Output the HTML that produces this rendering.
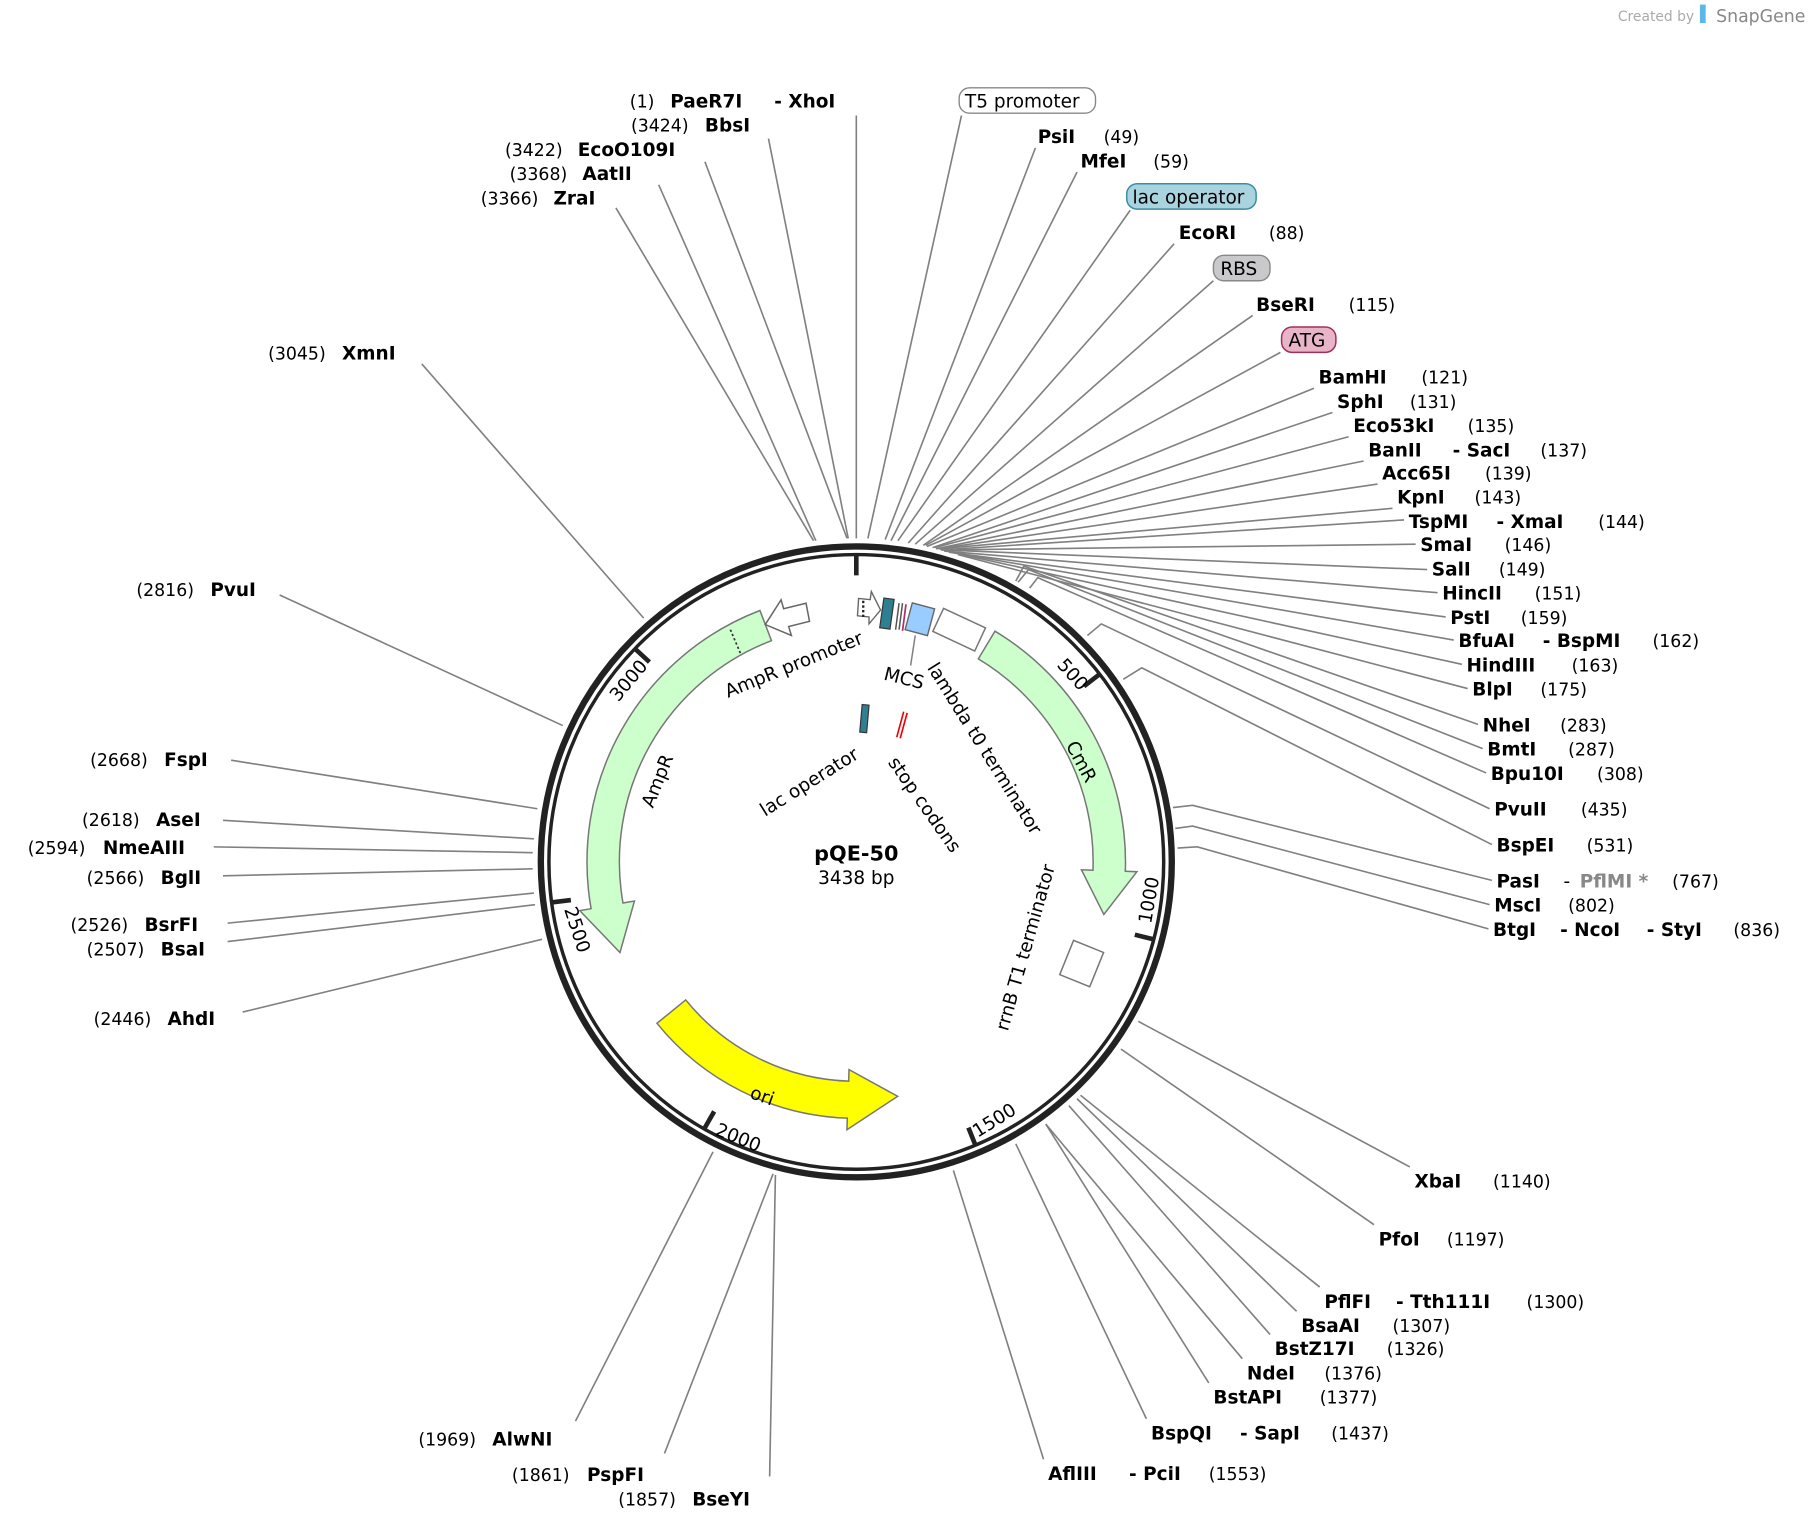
<!DOCTYPE html>
<html><head><meta charset="utf-8"><style>
html,body{margin:0;padding:0;background:#fff;}
svg{display:block;}
text{font-family:"DejaVu Sans","Liberation Sans",sans-serif;font-size:16px;fill:#000;}
.b{font-weight:bold;}
.n{font-size:15px;}
.l{stroke:#808080;stroke-width:1.4;fill:none;}
</style></head><body>
<svg width="1812" height="1532" viewBox="0 0 1568 1326" preserveAspectRatio="none" xmlns="http://www.w3.org/2000/svg">
<rect width="1568" height="1326" fill="#fff"/>
<text x="1400" y="18" style="font-size:12px;fill:#aaa">Created by</text>
<rect x="1471" y="4" width="5" height="16" fill="#5bb8e8"/>
<text x="1485" y="19" style="font-size:15px;fill:#888">SnapGene</text>

<!-- connector lines -->
<g class="l">
<path d="M751 466 L832 100"/>
<path d="M766 467 L896 128"/>
<path d="M771 468 L932 149"/>
<path d="M777 468 L978 182"/>
<path d="M786 470 L1016 211"/>
<path d="M792 471 L1050 243"/>
<path d="M799 472 L1084 273"/>
<path d="M801 472 L1108 305"/>
<path d="M802 473 L1137 336"/>
<path d="M807 474 L1153 357"/>
<path d="M809 474 L1167 378"/>
<path d="M810 475 L1180 399"/>
<path d="M812 475 L1192 419"/>
<path d="M813 475 L1205 440"/>
<path d="M814 476 L1215 450"/>
<path d="M815 476 L1225 471"/>
<path d="M816 476 L1235 493"/>
<path d="M817 477 L1244 513"/>
<path d="M821 478 L1251 534"/>
<path d="M823 478 L1258 554"/>
<path d="M823 478 L1265 575"/>
<path d="M829 480 L1270 596"/>
<path d="M879 503 L886 490 L1279 627"/>
<path d="M881 504 L890 493 L1283 648"/>
<path d="M891 509 L898 500 L1286 669"/>
<path d="M941 550 L953 540 L1289 700"/>
<path d="M972 588 L988 578 L1291 731"/>
<path d="M1015 699 L1032 697 L1291 762"/>
<path d="M1017 717 L1032 715 L1289 783"/>
<path d="M1019 734 L1036 733 L1288 804"/>
<path d="M985 884 L1220 1010"/>
<path d="M970 908 L1189 1060"/>
<path d="M935 948 L1142 1114"/>
<path d="M932 951 L1122 1135"/>
<path d="M925 957 L1099 1155"/>
<path d="M905 973 L1075 1176"/>
<path d="M905 973 L1046 1197"/>
<path d="M879 990 L992 1228"/>
<path d="M825 1013 L903 1263"/>
<path d="M671 1017 L666 1278"/>
<path d="M669 1016 L575 1258"/>
<path d="M617 997 L498 1230"/>
<path d="M469 813 L210 876"/>
<path d="M463 783 L197 815"/>
<path d="M462 773 L197 799"/>
<path d="M461 752 L193 758"/>
<path d="M461 738 L185 733"/>
<path d="M462 726 L193 710"/>
<path d="M465 700 L200 658"/>
<path d="M487 628 L242 515"/>
<path d="M557 535 L365 315"/>
<path d="M704 468 L533 180"/>
<path d="M706 468 L570 160"/>
<path d="M733 466 L610 140"/>
<path d="M734 466 L665 120"/>
<path d="M741 466 L741 100"/>
</g>

<!-- backbone -->
<circle cx="741" cy="746" r="273" fill="none" stroke="#222" stroke-width="5.5"/>
<circle cx="741" cy="746" r="266" fill="none" stroke="#222" stroke-width="3"/>
<!-- ticks -->
<g stroke="#222" stroke-width="4">
<line x1="741" y1="480" x2="741" y2="498"/>
<line x1="951" y1="584" x2="938" y2="594"/>
<line x1="998" y1="813" x2="982" y2="809"/>
<line x1="844" y1="991" x2="838" y2="976"/>
<line x1="610" y1="976" x2="618" y2="962"/>
<line x1="478" y1="781" x2="494" y2="779"/>
<line x1="550" y1="562" x2="562" y2="573"/>
</g>

<!-- features -->
<path d="M657.6 528.4 A233 233 0 0 0 511.5 786.5 L501.7 788.2 L536.5 824.4 L549 779.9 L539.1 781.6 A205 205 0 0 1 667.6 554.5 Z" fill="#ccffcc" stroke="#777" stroke-width="1.3"/>
<line x1="632" y1="545" x2="641" y2="566" stroke="#333" stroke-width="1.5" stroke-dasharray="2,2"/>
<path d="M697.5 522.1 L678.1 526.9 L675.9 519.2 L662.2 540.6 L684.8 550 L682.5 542.3 L700.5 537.8 Z" fill="#fff" stroke="#666" stroke-width="1.3"/>
<path d="M861 546.3 A233 233 0 0 1 973.8 754.1 L983.8 754.5 L955.2 791.5 L935.8 752.8 L945.8 753.2 A205 205 0 0 0 846.6 570.3 Z" fill="#ccffcc" stroke="#777" stroke-width="1.3"/>
<path d="M568.5 885.7 A222 222 0 0 0 733.2 967.8 L732.9 977.8 L776.8 948.9 L734.7 925.8 L734.4 935.8 A190 190 0 0 1 593.4 865.5 Z" fill="#ffff00" stroke="#777" stroke-width="1.3"/>
<!-- T5 promoter small arrow -->
<path d="M743 518 L753 519 L754 512 L762 528 L752 540 L752 534 L742 533 Z" fill="#fff" stroke="#666" stroke-width="1.2"/>
<line x1="747" y1="520" x2="747" y2="534" stroke="#222" stroke-width="2" stroke-dasharray="2,2"/>
<rect x="763" y="518" width="9" height="26" fill="#2e7f92" stroke="#333" stroke-width="1" transform="rotate(8 767 531)"/>
<line x1="778" y1="522" x2="775" y2="545" stroke="#555" stroke-width="1.3"/>
<line x1="781" y1="522" x2="778" y2="545" stroke="#555" stroke-width="1.3"/>
<line x1="784" y1="523" x2="781" y2="546" stroke="#b0306a" stroke-width="1.5"/>
<rect x="786" y="524" width="20" height="24" fill="#99ccff" stroke="#666" stroke-width="1.2" transform="rotate(15 796 536)"/>
<rect x="810" y="534" width="40" height="22" fill="#fff" stroke="#777" stroke-width="1.3" transform="rotate(25 830 545)"/>
<rect x="922" y="818" width="28" height="32" fill="#fff" stroke="#777" stroke-width="1.3" transform="rotate(22 936 834)"/>
<line x1="792" y1="550" x2="788" y2="576" stroke="#808080" stroke-width="1.3"/>
<rect x="745" y="610" width="6" height="24" fill="#2e7f92" stroke="#333" stroke-width="1" transform="rotate(5 748 622)"/>
<line x1="776" y1="638" x2="782" y2="616" stroke="#e00" stroke-width="1.4"/>
<line x1="779" y1="639" x2="785" y2="617" stroke="#e00" stroke-width="1.4"/>

<!-- feature boxes -->
<rect x="830" y="76" width="118" height="22" rx="9" fill="#fff" stroke="#888" stroke-width="1.2"/>
<text x="835" y="93">T5 promoter</text>
<rect x="975" y="159" width="112" height="22" rx="9" fill="#a9d3de" stroke="#3a8fa3" stroke-width="1.3"/>
<text x="980" y="176">lac operator</text>
<rect x="1050" y="221" width="49" height="22" rx="9" fill="#c9c9cc" stroke="#888" stroke-width="1.2"/>
<text x="1056" y="238">RBS</text>
<rect x="1109" y="283" width="47" height="22" rx="9" fill="#e8b4c8" stroke="#a0305a" stroke-width="1.3"/>
<text x="1115" y="300">ATG</text>

<!-- inner labels -->
<text x="741" y="745" text-anchor="middle" class="b" style="font-size:18px">pQE-50</text>
<text x="741" y="765" text-anchor="middle">3438 bp</text>
<text transform="translate(630,604) rotate(-22)">AmpR promoter</text>
<text transform="translate(764,588) rotate(14)">MCS</text>
<text transform="translate(802,578) rotate(58)">lambda t0 terminator</text>
<text transform="translate(922,645) rotate(62)">CmR</text>
<text transform="translate(565,700) rotate(-68)">AmpR</text>
<text transform="translate(648,950) rotate(20)">ori</text>
<text transform="translate(618,982) rotate(22)">2000</text>
<text transform="translate(846,985) rotate(-32)">1500</text>
<text transform="translate(996,800) rotate(-80)">1000</text>
<text transform="translate(914,576) rotate(48)">500</text>
<text transform="translate(535,608) rotate(-50)">3000</text>
<text transform="translate(488,787) rotate(72)">2500</text>
<text transform="translate(662,707) rotate(-32)">lac operator</text>
<text transform="translate(768,660) rotate(55)">stop codons</text>
<text transform="translate(872,893) rotate(-74)">rrnB T1 terminator</text>

<!-- right labels -->
<g>
<text x="898" y="124" class="b">PsiI</text><text x="955" y="124" class="n">(49)</text>
<text x="935" y="145" class="b">MfeI</text><text x="998" y="145" class="n">(59)</text>
<text x="1020" y="207" class="b">EcoRI</text><text x="1098" y="207" class="n">(88)</text>
<text x="1087" y="269" class="b">BseRI</text><text x="1167" y="269" class="n">(115)</text>
<text x="1141" y="332" class="b">BamHI</text><text x="1230" y="332" class="n">(121)</text>
<text x="1157" y="353" class="b">SphI</text><text x="1220" y="353" class="n">(131)</text>
<text x="1171" y="374" class="b">Eco53kI</text><text x="1270" y="374" class="n">(135)</text>
<text x="1184" y="395" class="b">BanII</text><text x="1257" y="395" class="b">- SacI</text><text x="1333" y="395" class="n">(137)</text>
<text x="1196" y="415" class="b">Acc65I</text><text x="1285" y="415" class="n">(139)</text>
<text x="1209" y="436" class="b">KpnI</text><text x="1276" y="436" class="n">(143)</text>
<text x="1219" y="457" class="b">TspMI</text><text x="1295" y="457" class="b">- XmaI</text><text x="1383" y="457" class="n">(144)</text>
<text x="1229" y="477" class="b">SmaI</text><text x="1302" y="477" class="n">(146)</text>
<text x="1239" y="498" class="b">SalI</text><text x="1297" y="498" class="n">(149)</text>
<text x="1248" y="519" class="b">HincII</text><text x="1328" y="519" class="n">(151)</text>
<text x="1255" y="540" class="b">PstI</text><text x="1316" y="540" class="n">(159)</text>
<text x="1262" y="560" class="b">BfuAI</text><text x="1335" y="560" class="b">- BspMI</text><text x="1430" y="560" class="n">(162)</text>
<text x="1269" y="581" class="b">HindIII</text><text x="1360" y="581" class="n">(163)</text>
<text x="1274" y="602" class="b">BlpI</text><text x="1333" y="602" class="n">(175)</text>
<text x="1283" y="633" class="b">NheI</text><text x="1350" y="633" class="n">(283)</text>
<text x="1287" y="654" class="b">BmtI</text><text x="1357" y="654" class="n">(287)</text>
<text x="1290" y="675" class="b">Bpu10I</text><text x="1382" y="675" class="n">(308)</text>
<text x="1293" y="706" class="b">PvuII</text><text x="1368" y="706" class="n">(435)</text>
<text x="1295" y="737" class="b">BspEI</text><text x="1373" y="737" class="n">(531)</text>
<text x="1295" y="768" class="b">PasI</text><text x="1353" y="768">-</text><text x="1367" y="768" class="b" style="fill:#888">PflMI *</text><text x="1447" y="768" class="n">(767)</text>
<text x="1293" y="789" class="b">MscI</text><text x="1357" y="789" class="n">(802)</text>
<text x="1292" y="810" class="b">BtgI</text><text x="1350" y="810" class="b">- NcoI</text><text x="1425" y="810" class="b">- StyI</text><text x="1500" y="810" class="n">(836)</text>
<text x="1224" y="1028" class="b">XbaI</text><text x="1292" y="1028" class="n">(1140)</text>
<text x="1193" y="1078" class="b">PfoI</text><text x="1252" y="1078" class="n">(1197)</text>
<text x="1146" y="1132" class="b">PflFI</text><text x="1208" y="1132" class="b">- Tth111I</text><text x="1321" y="1132" class="n">(1300)</text>
<text x="1126" y="1153" class="b">BsaAI</text><text x="1205" y="1153" class="n">(1307)</text>
<text x="1103" y="1173" class="b">BstZ17I</text><text x="1200" y="1173" class="n">(1326)</text>
<text x="1079" y="1194" class="b">NdeI</text><text x="1146" y="1194" class="n">(1376)</text>
<text x="1050" y="1215" class="b">BstAPI</text><text x="1142" y="1215" class="n">(1377)</text>
<text x="996" y="1246" class="b">BspQI</text><text x="1073" y="1246" class="b">- SapI</text><text x="1152" y="1246" class="n">(1437)</text>
<text x="907" y="1281" class="b">AflIII</text><text x="977" y="1281" class="b">- PciI</text><text x="1046" y="1281" class="n">(1553)</text>
</g>
<!-- left labels -->
<g>
<text x="545" y="93" class="n">(1)</text><text x="580" y="93" class="b">PaeR7I</text><text x="670" y="93" class="b">- XhoI</text>
<text x="546" y="114" class="n">(3424)</text><text x="610" y="114" class="b">BbsI</text>
<text x="437" y="135" class="n">(3422)</text><text x="500" y="135" class="b">EcoO109I</text>
<text x="441" y="156" class="n">(3368)</text><text x="504" y="156" class="b">AatII</text>
<text x="416" y="177" class="n">(3366)</text><text x="479" y="177" class="b">ZraI</text>
<text x="232" y="311" class="n">(3045)</text><text x="296" y="311" class="b">XmnI</text>
<text x="118" y="516" class="n">(2816)</text><text x="182" y="516" class="b">PvuI</text>
<text x="78" y="663" class="n">(2668)</text><text x="142" y="663" class="b">FspI</text>
<text x="71" y="715" class="n">(2618)</text><text x="135" y="715" class="b">AseI</text>
<text x="24" y="739" class="n">(2594)</text><text x="89" y="739" class="b">NmeAIII</text>
<text x="75" y="765" class="n">(2566)</text><text x="139" y="765" class="b">BglI</text>
<text x="61" y="806" class="n">(2526)</text><text x="125" y="806" class="b">BsrFI</text>
<text x="75" y="827" class="n">(2507)</text><text x="139" y="827" class="b">BsaI</text>
<text x="81" y="887" class="n">(2446)</text><text x="145" y="887" class="b">AhdI</text>
<text x="362" y="1251" class="n">(1969)</text><text x="426" y="1251" class="b">AlwNI</text>
<text x="443" y="1282" class="n">(1861)</text><text x="508" y="1282" class="b">PspFI</text>
<text x="535" y="1303" class="n">(1857)</text><text x="599" y="1303" class="b">BseYI</text>
</g>
</svg>
</body></html>
